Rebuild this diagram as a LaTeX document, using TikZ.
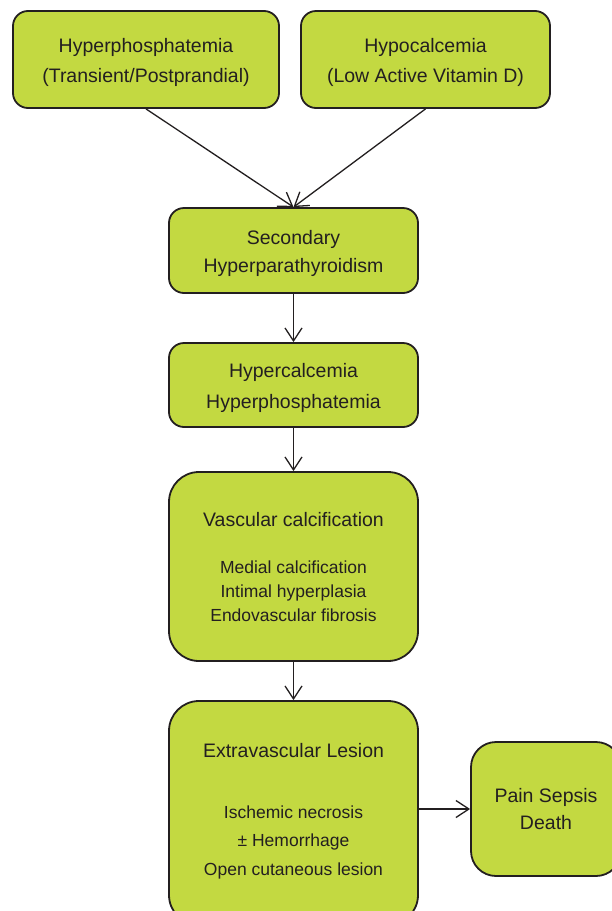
\documentclass[tikz,border=0pt]{standalone}
\usepackage{fontspec}
\setmainfont{Liberation Sans}
\usetikzlibrary{arrows.meta}
\definecolor{lime}{RGB}{195,217,65}
\definecolor{ink}{RGB}{35,31,32}
\begin{document}
\begin{tikzpicture}[x=1pt,y=-1pt,
  box/.style={draw=ink, line width=1.8pt, fill=lime, inner sep=0pt, rounded corners=#1},
  txt/.style={anchor=base, inner sep=0pt, text=ink, font=\fontsize{19.5}{23}\selectfont},
  sub/.style={anchor=base, inner sep=0pt, text=ink, font=\fontsize{17.5}{21}\selectfont},
  arr/.style={draw=ink, line width=1.3pt, -{Straight Barb[length=13pt,width=17pt]}}]
\useasboundingbox (0,0) rectangle (612,911);
\clip (0,0) rectangle (612,911);
\fill[white] (0,0) rectangle (612,911);

% boxes
\node[box=15pt, minimum width=266pt, minimum height=97pt] (b1) at (146,59.5) {};
\node[box=15pt, minimum width=249pt, minimum height=97pt] (b2) at (425.5,59.5) {};
\node[box=15pt, minimum width=249pt, minimum height=85pt] (b3) at (293.5,250.5) {};
\node[box=15pt, minimum width=249pt, minimum height=84pt] (b4) at (293.5,385) {};
\node[box=30pt, minimum width=249pt, minimum height=189pt] (b5) at (293.5,566.5) {};
\node[box=30pt, minimum width=249pt, minimum height=224pt] (b6) at (293.5,813) {};
\node[box=25pt, minimum width=150pt, minimum height=134pt] (b7) at (546,809) {};

% texts
\node[txt] (t1a) at (146,52) {Hyperphosphatemia};
\node[txt] (t1b) at (146,82.5) {(Transient/Postprandial)};
\node[txt] (t2a) at (425.5,52) {Hypocalcemia};
\node[txt] (t2b) at (425.5,82.5) {(Low Active Vitamin D)};
\node[txt] (t3a) at (293.5,244) {Secondary};
\node[txt] (t3b) at (293.5,272) {Hyperparathyroidism};
\node[txt] (t4a) at (293.5,377) {Hypercalcemia};
\node[txt] (t4b) at (293.5,408) {Hyperphosphatemia};
\node[txt] (t5a) at (293.5,526) {Vascular calcification};
\node[sub] (t5b) at (293.5,573) {Medial calcification};
\node[sub] (t5c) at (293.5,597) {Intimal hyperplasia};
\node[sub] (t5d) at (293.5,621) {Endovascular fibrosis};
\node[txt] (t6a) at (293.5,757) {Extravascular Lesion};
\node[sub] (t6b) at (293.5,818) {Ischemic necrosis};
\node[sub] (t6c) at (293.5,846) {\char"00B1\ Hemorrhage};
\node[sub] (t6d) at (293.5,875) {Open cutaneous lesion};
\node[txt] (t7a) at (546,802) {Pain Sepsis};
\node[txt] (t7b) at (546,829) {Death};

% connectors
\draw[arr] (b1.south) -- (b3.north);
\draw[arr] (b2.south) -- (b3.north);
\draw[arr] (b3.south) -- (b4.north);
\draw[arr] (b4.south) -- (b5.north);
\draw[arr] (b5.south) -- (b6.north);
\draw[arr] (b6.east |- b7.west) -- (b7.west);
\end{tikzpicture}
\end{document}
